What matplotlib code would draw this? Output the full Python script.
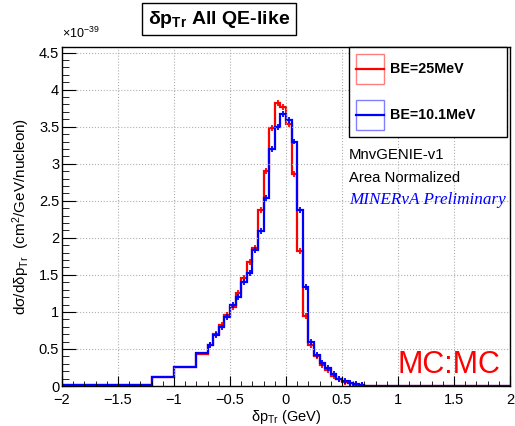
import numpy as np
import matplotlib.pyplot as plt
from matplotlib.patches import Rectangle
from matplotlib.lines import Line2D

plt.rcParams['font.family'] = ['Liberation Sans', 'DejaVu Sans']
plt.rcParams['mathtext.fontset'] = 'custom'
plt.rcParams['mathtext.rm'] = 'Liberation Sans'
plt.rcParams['mathtext.it'] = 'Liberation Sans:italic'
plt.rcParams['mathtext.bf'] = 'Liberation Sans:bold'

# bin edges (GeV)
edges = [-2.0, -1.2, -1.0, -0.8, -0.7, -0.65, -0.6, -0.55, -0.5, -0.45, -0.4,
         -0.35, -0.3, -0.25, -0.2, -0.15, -0.1, -0.05, 0.0, 0.05, 0.1, 0.15,
         0.2, 0.25, 0.3, 0.35, 0.4, 0.45, 0.5, 0.55, 0.6, 0.65, 0.7, 2.0]

# cross section, units of 1e-39 cm^2/GeV/nucleon
be25 = [0.01, 0.12, 0.25, 0.43, 0.56, 0.70, 0.82, 0.96, 1.07, 1.25, 1.46,
        1.68, 1.86, 2.38, 2.90, 3.48, 3.82, 3.77, 3.53, 2.86, 1.82, 0.94,
        0.55, 0.41, 0.28, 0.22, 0.135, 0.10, 0.06, 0.035, 0.02, 0.01, 0.001]
be10 = [0.01, 0.12, 0.26, 0.44, 0.55, 0.69, 0.79, 0.93, 1.09, 1.20, 1.40,
        1.53, 1.84, 2.09, 2.54, 3.20, 3.50, 3.67, 3.59, 3.30, 2.38, 1.34,
        0.60, 0.42, 0.31, 0.24, 0.16, 0.10, 0.07, 0.045, 0.025, 0.012, 0.002]
err = 0.04

labels = ['BE=25MeV', 'BE=10.1MeV']
colors = ['#ff0000', '#0000ff']

W, H = 515, 426
def fx(px):
    return px / W
def fy(py):
    return 1 - py / H

def fmt(v, pos):
    return ('%g' % v).replace('-', '\u2212')

fig = plt.figure(figsize=(W / 100, H / 100), dpi=100)
ax = fig.add_axes([fx(62), fy(386), fx(510) - fx(62), fy(46.7) - fy(386)])

edges = np.array(edges)
centers = 0.5 * (edges[:-1] + edges[1:])
for vals, c in zip([be25, be10], colors):
    ax.stairs(vals, edges, color=c, lw=1.6)
    ax.errorbar(centers[4:-1], np.array(vals)[4:-1], yerr=err, fmt='none',
                ecolor=c, elinewidth=1.3, capsize=0)

ax.set_xlim(-2, 2)
ax.set_ylim(0, 4.58)
ax.set_xticks(np.arange(-2, 2.01, 0.5))
ax.set_xticks(np.arange(-2, 2.01, 0.1), minor=True)
ax.set_yticks(np.arange(0, 4.51, 0.5))
ax.set_yticks(np.arange(0, 4.58, 0.1), minor=True)
ax.xaxis.set_major_formatter(plt.FuncFormatter(fmt))
ax.yaxis.set_major_formatter(plt.FuncFormatter(fmt))
ax.tick_params(axis='both', which='both', direction='in', labelsize=10.5)
ax.tick_params(axis='y', which='major', length=10, pad=2)
ax.tick_params(axis='y', which='minor', length=5)
ax.tick_params(axis='x', which='major', length=7, pad=5)
ax.tick_params(axis='x', which='minor', length=3.5)
for t in ax.get_yticklabels():
    t.set_verticalalignment('center_baseline')
ax.grid(True, which='major', color='#b0b0b0', linestyle=':', lw=0.8)
for s in ax.spines.values():
    s.set_linewidth(1.0)

ax.set_xlabel(r'δp$_{\mathrm{Tr}}$ (GeV)', fontsize=10.5, labelpad=0.5)
ax.set_ylabel(r'dσ/dδp$_{\mathrm{Tr}}$  (cm$^{2}$/GeV/nucleon)', fontsize=11,
              labelpad=5)
fig.text(fx(62), fy(38), r'$\times$10$^{-39}$', fontsize=9, ha='left',
         va='baseline')

# title box
fig.text(fx(219), fy(19), r'δ$\mathbf{p_{Tr}}$ All QE-like', fontsize=14,
         fontweight='bold', ha='center', va='center',
         bbox=dict(boxstyle='square,pad=0.3', fc='white', ec='black', lw=1))

# legend
fig.add_artist(Rectangle((fx(349), fy(137.3)), fx(507) - fx(349),
                         fy(46.7) - fy(137.3), transform=fig.transFigure,
                         fc='white', ec='black', lw=1, zorder=5))
for i, (lab, c) in enumerate(zip(labels, colors)):
    yc = 69 + 46 * i
    fig.add_artist(Rectangle((fx(356), fy(yc + 15)), fx(384) - fx(356),
                             fy(yc - 15) - fy(yc + 15),
                             transform=fig.transFigure, fc='none', ec=c,
                             alpha=0.5, lw=1, zorder=6))
    fig.add_artist(Line2D([fx(356), fx(384)], [fy(yc), fy(yc)],
                          transform=fig.transFigure, color=c, lw=1.6,
                          zorder=7))
    fig.text(fx(390), fy(yc), lab, fontsize=10.3, fontweight='bold',
             ha='left', va='center', zorder=8)

fig.text(fx(349), fy(155), 'MnvGENIE-v1', fontsize=10.7, ha='left',
         va='center')
fig.text(fx(349), fy(178), 'Area Normalized', fontsize=10.7, ha='left',
         va='center')
fig.text(fx(349), fy(200), 'MINERvA Preliminary', fontsize=12.3,
         family='Liberation Serif', style='italic', color='#0000ff',
         ha='left', va='center')
fig.text(fx(500), fy(373), 'MC:MC', fontsize=22, color='#ff0000',
         ha='right', va='baseline')

fig.savefig('out.png', dpi=100)
